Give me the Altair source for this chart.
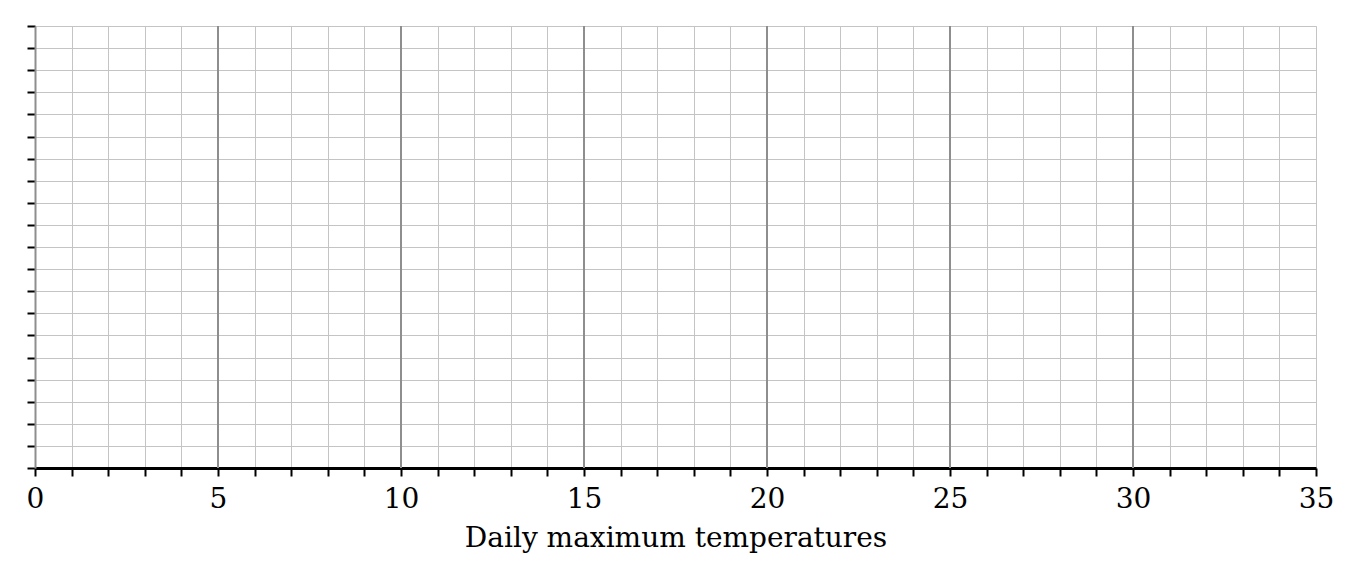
import altair as alt
import pandas as pd

x_ticks = list(range(0, 36))
y_ticks = list(range(0, 21))
major_lines = [5, 10, 15, 20, 25, 30]
x_title = "Daily maximum temperatures"

FONT = "DejaVu Serif"

df = pd.DataFrame({"x": major_lines})

xscale = alt.Scale(domain=[0, 35], nice=False, zero=False)
yscale = alt.Scale(domain=[0, 20], nice=False, zero=False)

base = alt.Chart(df).mark_rule(color="#8e8e8e", strokeWidth=2).encode(
    x=alt.X("x:Q", scale=xscale,
            axis=alt.Axis(values=x_ticks, grid=True, gridColor="#c4c4c4", gridWidth=1,
                          tickColor="black", tickWidth=2, tickSize=8,
                          domainColor="black", domainWidth=3,
                          labelExpr="datum.value % 5 == 0 ? datum.label : ''",
                          labelFont=FONT, labelFontSize=28, labelColor="black",
                          labelPadding=9, labelFlush=False,
                          title=x_title, titleFont=FONT, titleFontSize=28,
                          titleFontWeight="normal", titleColor="black", titlePadding=11)),
    y=alt.Y("y0:Q", scale=yscale,
            axis=alt.Axis(values=y_ticks, grid=True, gridColor="#c4c4c4", gridWidth=1,
                          tickColor="black", tickWidth=2, tickSize=8,
                          domainColor="#8e8e8e", domainWidth=2,
                          labels=False, title=None)),
    y2="y1:Q",
).transform_calculate(y0="0", y1="20")

chart = base.properties(
    width=1281, height=442,
    autosize=alt.AutoSizeParams(type="none"),
    padding={"left": 27, "top": 18, "right": 36, "bottom": 100},
).configure_view(stroke=None).configure(background="white")

chart.save("out.html", embed_options={"renderer": "svg", "actions": False})
